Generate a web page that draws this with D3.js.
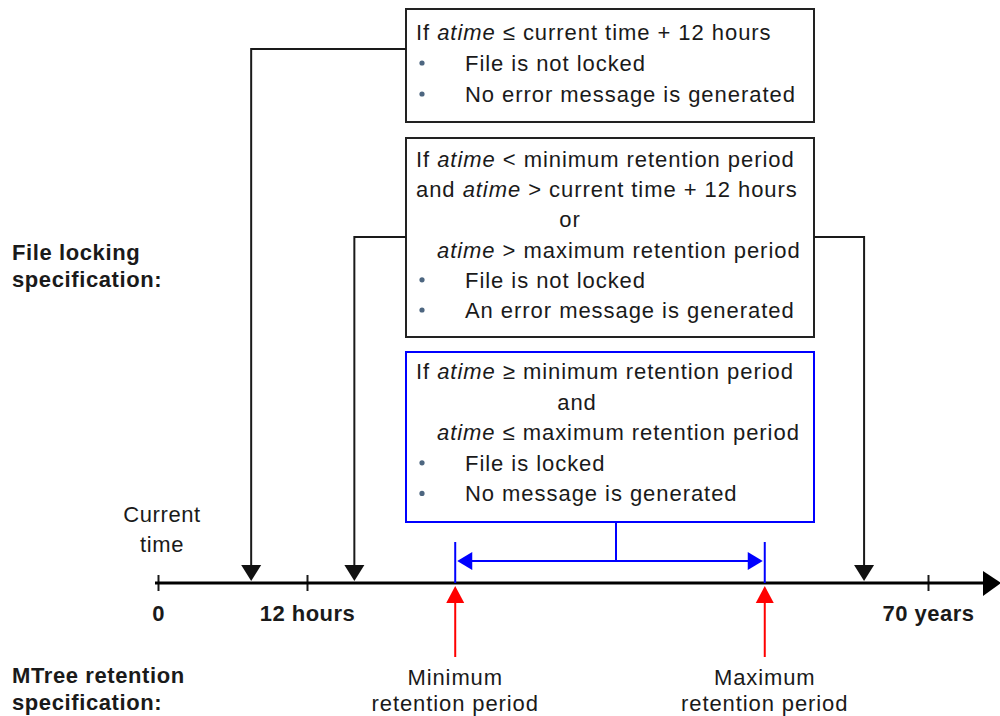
<!DOCTYPE html>
<html><head><meta charset="utf-8">
<script src="https://cdn.jsdelivr.net/npm/d3@7"></script>
<style>
body{margin:0;background:#fff;}
svg text{font-family:"Liberation Sans",Arial,sans-serif;fill:#1a1a1a;}
</style></head>
<body><svg id="c" width="1000" height="716"></svg>
<script>
// ---- data (timeline positions in abstract units 0..100) ----
const tickValues = [0, 19.35, 100];
const tickLabels = ["0", "12 hours", "70 years"];
const retentionMarks = [38.6, 78.8];                 // min, max retention period
const retentionLabels = [["Minimum","retention period"],["Maximum","retention period"]];
const lockArrows = [12.1, 25.5, 91.7];               // where each box's arrow lands
const lockArrowBox = [0, 1, 1];                      // which box each arrow comes from
const lockArrowSide = ["left", "left", "right"];

// box texts: kind = lead | bullet | center | indent ; parts: [text, italic]
const box1Lines = [
  {kind:"lead",   parts:[["If ",0],["atime",1],[" \u2264 current time + 12 hours",0]]},
  {kind:"bullet", parts:[["File is not locked",0]]},
  {kind:"bullet", parts:[["No error message is generated",0]]}
];
const box2Lines = [
  {kind:"lead",   parts:[["If ",0],["atime",1],[" < minimum retention period",0]]},
  {kind:"lead",   parts:[["and ",0],["atime",1],[" > current time + 12 hours",0]]},
  {kind:"center", at:570, parts:[["or",0]]},
  {kind:"indent", parts:[["atime",1],[" > maximum retention period",0]]},
  {kind:"bullet", parts:[["File is not locked",0]]},
  {kind:"bullet", parts:[["An error message is generated",0]]}
];
const box3Lines = [
  {kind:"lead",   parts:[["If ",0],["atime",1],[" \u2265 minimum retention period",0]]},
  {kind:"center", at:577, parts:[["and",0]]},
  {kind:"indent", parts:[["atime",1],[" \u2264 maximum retention period",0]]},
  {kind:"bullet", parts:[["File is locked",0]]},
  {kind:"bullet", parts:[["No message is generated",0]]}
];
const boxes = [
  {lines:box1Lines, y0:9,   y1:122, first:40,  step:31,   color:"#222"},
  {lines:box2Lines, y0:138, y1:337, first:167, step:30.2, color:"#222"},
  {lines:box3Lines, y0:352, y1:522, first:379, step:30.6, color:"#0000ff"}
];
const sideLabels = [
  {lines:["File locking","specification:"], y:260},
  {lines:["MTree retention","specification:"], y:683}
];
const currentTimeLabel = ["Current","time"];

// ---- layout ----
const svg = d3.select("#c");
const x = d3.scaleLinear().domain([0,100]).range([158,928]);
const axisY = 583;
const boxX0 = 406, boxX1 = 814;
const dark = "#1a1a1a";
const fs = 22;

// boxes
boxes.forEach(b=>{
  svg.append("rect").attr("x",boxX0).attr("y",b.y0).attr("width",boxX1-boxX0).attr("height",b.y1-b.y0)
    .attr("fill","none").attr("stroke",b.color).attr("stroke-width",2);
  b.lines.forEach((ln,i)=>{
    const yy = b.first + i*b.step;
    let tx, anchor="start";
    if(ln.kind==="lead") tx=416;
    else if(ln.kind==="indent") tx=437;
    else if(ln.kind==="bullet") tx=465;
    else {tx=ln.at; anchor="middle";}
    if(ln.kind==="bullet"){
      svg.append("circle").attr("cx",422).attr("cy",yy-8).attr("r",2.6).attr("fill","#4d6680");
    }
    const t = svg.append("text").attr("x",tx).attr("y",yy).attr("text-anchor",anchor)
      .attr("font-size",fs).attr("letter-spacing",0.95);
    ln.parts.forEach(p=>{
      t.append("tspan").text(p[0]).attr("font-style",p[1]?"italic":"normal").attr("xml:space","preserve");
    });
  });
});

// lock arrows (black)
const connY = [49, 237];
lockArrows.forEach((v,i)=>{
  const ax = x(v), cy = connY[lockArrowBox[i]];
  const sx = lockArrowSide[i]==="left" ? boxX0 : boxX1;
  svg.append("path").attr("d",`M${sx},${cy}H${ax}V${axisY-16}`)
    .attr("fill","none").attr("stroke",dark).attr("stroke-width",2);
  svg.append("path").attr("d",`M${ax-10},${axisY-18}L${ax+10},${axisY-18}L${ax},${axisY-2}Z`).attr("fill","#111");
});

// axis
const axis = d3.axisBottom(x).tickValues(tickValues).tickFormat((d,i)=>tickLabels[i]).tickSizeOuter(0).tickSize(16);
const ag = svg.append("g").attr("transform",`translate(0,${axisY})`).call(axis);
ag.select(".domain").remove();
ag.selectAll(".tick line").attr("y1",-8).attr("y2",8).attr("stroke",dark).attr("stroke-width",2);
ag.selectAll(".tick text").attr("y",38).attr("dy",0).attr("fill",dark)
  .attr("font-family","'Liberation Sans',Arial,sans-serif").attr("font-size",fs).attr("font-weight","bold")
  .attr("letter-spacing",0.5);
svg.append("line").attr("x1",155).attr("x2",986).attr("y1",axisY).attr("y2",axisY).attr("stroke","#000").attr("stroke-width",3);
svg.append("path").attr("d",`M983,${axisY-12}L1001,${axisY}L983,${axisY+13}Z`).attr("fill","#000");

// retention (blue bracket + red arrows)
const blue = "#0000ff", red = "#ff0000";
retentionMarks.forEach((v,i)=>{
  const rx = x(v);
  svg.append("line").attr("x1",rx).attr("x2",rx).attr("y1",542).attr("y2",axisY).attr("stroke",blue).attr("stroke-width",2);
  svg.append("line").attr("x1",rx).attr("x2",rx).attr("y1",657).attr("y2",601).attr("stroke",red).attr("stroke-width",2);
  svg.append("path").attr("d",`M${rx-9},${603}L${rx+9},${603}L${rx},${586}Z`).attr("fill",red);
  retentionLabels[i].forEach((s,j)=>{
    svg.append("text").attr("x",rx).attr("y",685+j*26).attr("text-anchor","middle")
      .attr("font-size",fs).attr("letter-spacing",0.9).text(s);
  });
});
const bx0 = x(retentionMarks[0]), bx1 = x(retentionMarks[1]);
svg.append("line").attr("x1",bx0+14).attr("x2",bx1-14).attr("y1",561).attr("y2",561).attr("stroke",blue).attr("stroke-width",2);
svg.append("path").attr("d",`M${bx0+2},561L${bx0+17},552L${bx0+17},570Z`).attr("fill",blue);
svg.append("path").attr("d",`M${bx1-2},561L${bx1-17},552L${bx1-17},570Z`).attr("fill",blue);
svg.append("line").attr("x1",616).attr("x2",616).attr("y1",522).attr("y2",561).attr("stroke",blue).attr("stroke-width",2);

// side labels
sideLabels.forEach(s=>{
  s.lines.forEach((l,j)=>{
    svg.append("text").attr("x",12).attr("y",s.y+j*27).attr("font-size",fs).attr("font-weight","bold")
      .attr("letter-spacing",0.6).text(l);
  });
});
currentTimeLabel.forEach((l,j)=>{
  svg.append("text").attr("x",162).attr("y",522+j*30).attr("text-anchor","middle")
    .attr("font-size",fs).attr("letter-spacing",0.6).text(l);
});
</script></body></html>
